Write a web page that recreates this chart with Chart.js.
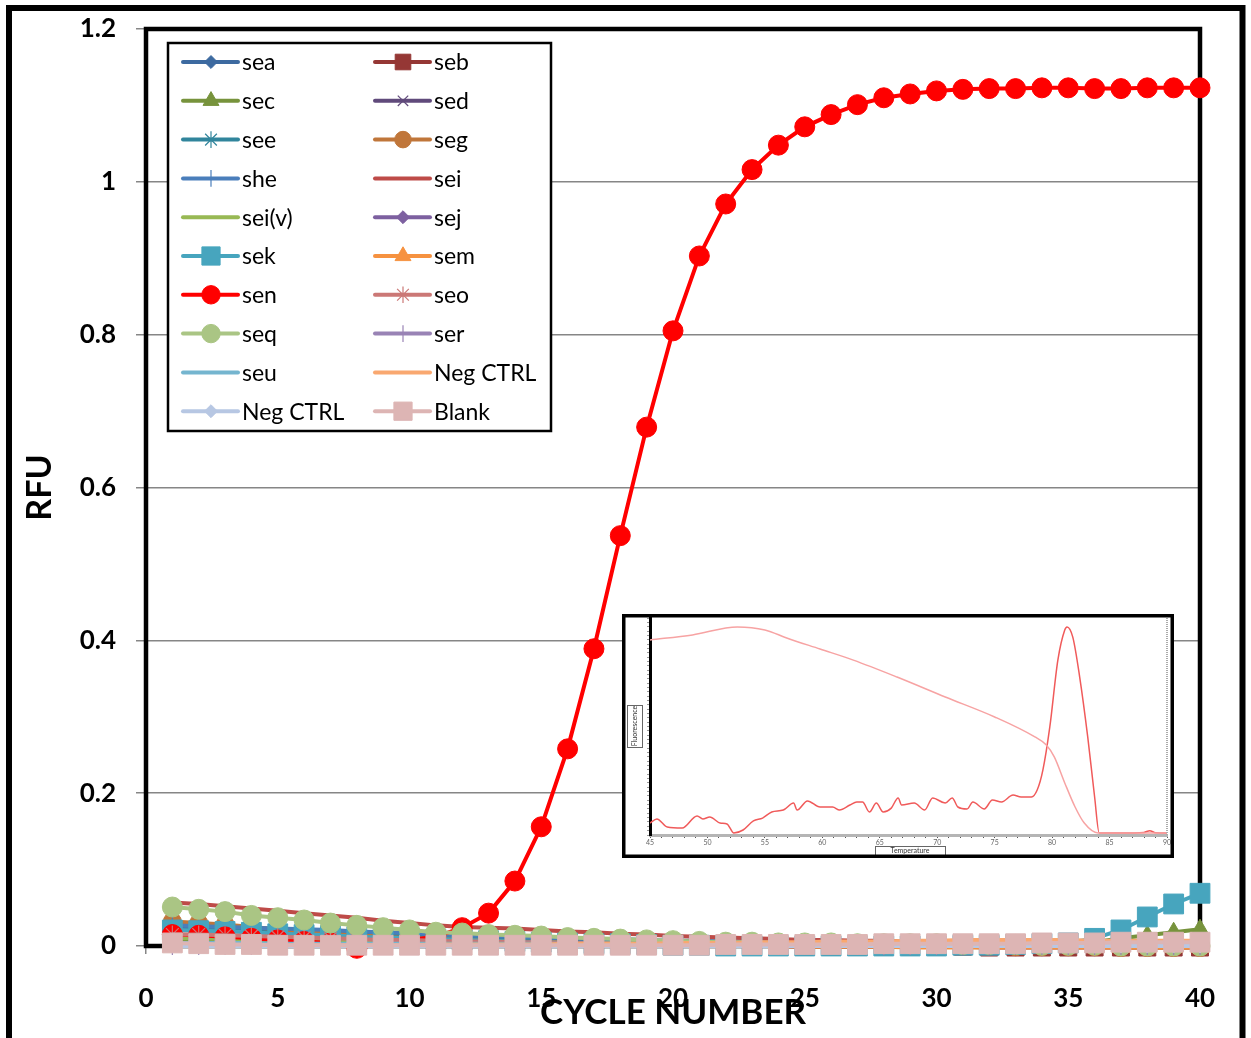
<!DOCTYPE html>
<html><head><meta charset="utf-8">
<script src="https://cdn.jsdelivr.net/npm/chart.js@4.4.0/dist/chart.umd.min.js"></script>
<style>
html,body{margin:0;padding:0;background:#fff;}
#wrap{position:relative;width:1251px;height:1038px;overflow:hidden;background:#fff;}
#main{position:absolute;left:0;top:0;}
#inset{position:absolute;left:622px;top:614px;}
</style></head><body>
<div id="wrap"><canvas id="main" width="1251" height="1038"></canvas><canvas id="inset" width="552" height="244"></canvas></div>
<script>
// ---------- main chart data ----------
const cycles = [1,2,3,4,5,6,7,8,9,10,11,12,13,14,15,16,17,18,19,20,21,22,23,24,25,26,27,28,29,30,31,32,33,34,35,36,37,38,39,40];
const xTickLabels = ['0','5','10','15','20','25','30','35','40'];
const yTickLabels = ['0','0.2','0.4','0.6','0.8','1','1.2'];
const seriesNames = ['sea','seb','sec','sed','see','seg','she','sei','sei(v)','sej','sek','sem','sen','seo','seq','ser','seu','Neg CTRL','Neg CTRL','Blank'];

const sea = [0.026,0.025,0.024,0.023,0.022,0.020,0.019,0.018,0.016,0.015,0.014,0.013,0.012,0.011,0.010,0.009,0.008,0.008,0.007,0.006,0.006,0.005,0.005,0.004,0.004,0.003,0.003,0.003,0.002,0.002,0.002,0.002,0.001,0.001,0.001,0.001,0.001,0.001,0.000,0.000];
const seb = [0.006,0.006,0.005,0.005,0.004,0.004,0.004,0.003,0.003,0.003,0.002,0.002,0.002,0.002,0.001,0.001,0.001,0.001,0.000,0.000,0.000,0.000,0.000,0.000,-0.001,-0.001,-0.001,-0.001,-0.001,-0.001,-0.001,-0.002,-0.002,-0.002,-0.002,-0.002,-0.002,-0.002,-0.002,-0.002];
const sec = [0.006,0.006,0.005,0.005,0.005,0.004,0.004,0.004,0.003,0.003,0.003,0.003,0.002,0.002,0.002,0.002,0.002,0.001,0.001,0.001,0.001,0.001,0.001,0.001,0.001,0.001,0.001,0.001,0.001,0.001,0.001,0.001,0.001,0.002,0.003,0.005,0.010,0.014,0.018,0.022];
const sed = [0.002,0.002,0.002,0.002,0.002,0.001,0.001,0.001,0.001,0.001,0.001,0.001,0.001,0.000,0.000,0.000,0.000,0.000,0.000,0.000,0.000,0.000,0.000,0.000,0.000,0.000,0.000,0.000,0.000,0.000,0.000,0.000,0.000,0.000,0.000,0.000,0.000,0.000,0.000,0.000];
const see = [0.022,0.021,0.021,0.020,0.019,0.018,0.017,0.016,0.015,0.014,0.013,0.012,0.011,0.010,0.009,0.008,0.008,0.007,0.006,0.006,0.005,0.005,0.004,0.004,0.004,0.003,0.003,0.003,0.003,0.002,0.002,0.002,0.002,0.002,0.002,0.002,0.002,0.002,0.002,0.002];
const seg = [0.032,0.030,0.028,0.025,0.022,0.019,0.016,0.014,0.012,0.010,0.009,0.008,0.007,0.006,0.005,0.005,0.004,0.004,0.003,0.003,0.003,0.002,0.002,0.002,0.001,0.001,0.001,0.001,0.000,0.000,0.000,0.000,-0.001,-0.001,-0.001,-0.001,-0.002,-0.002,-0.002,-0.002];
const she = [0.027,0.026,0.025,0.024,0.023,0.022,0.021,0.019,0.018,0.017,0.015,0.014,0.013,0.012,0.011,0.010,0.009,0.009,0.008,0.007,0.007,0.006,0.006,0.005,0.005,0.004,0.004,0.004,0.003,0.003,0.003,0.003,0.002,0.002,0.002,0.002,0.002,0.002,0.001,0.001];
const sei = [0.057,0.055,0.052,0.049,0.046,0.043,0.040,0.037,0.033,0.030,0.027,0.025,0.024,0.023,0.021,0.019,0.018,0.016,0.015,0.013,0.012,0.011,0.010,0.009,0.008,0.008,0.007,0.007,0.006,0.006,0.006,0.005,0.005,0.005,0.005,0.004,0.004,0.004,0.004,0.004];
const seiv = [0.010,0.010,0.009,0.009,0.008,0.008,0.007,0.007,0.006,0.006,0.006,0.005,0.005,0.005,0.005,0.004,0.004,0.004,0.004,0.003,0.003,0.003,0.003,0.003,0.002,0.002,0.002,0.002,0.002,0.002,0.001,0.001,0.001,0.001,0.001,0.000,0.000,0.000,0.000,0.000];
const sej = [0.003,0.003,0.003,0.002,0.002,0.002,0.002,0.002,0.002,0.001,0.001,0.001,0.001,0.001,0.001,0.001,0.001,0.000,0.000,0.000,0.000,0.000,0.000,0.000,0.000,0.000,0.000,0.000,0.000,0.000,0.000,0.000,0.000,0.000,0.000,0.000,0.000,0.000,0.000,0.000];
const sek = [0.021,0.020,0.019,0.018,0.016,0.015,0.014,0.012,0.011,0.010,0.009,0.008,0.007,0.006,0.005,0.004,0.003,0.003,0.002,0.001,0.001,0.000,0.000,0.000,0.000,0.000,0.000,0.000,0.000,0.000,0.001,0.001,0.002,0.003,0.004,0.010,0.021,0.038,0.055,0.069];
const sem = [0.001,0.001,0.001,0.001,0.001,0.000,0.000,0.000,0.000,0.000,0.000,0.000,0.000,0.000,0.000,0.000,0.000,0.000,0.000,0.000,0.000,0.000,0.000,0.000,-0.001,-0.001,-0.001,-0.001,-0.002,-0.002,-0.002,-0.002,-0.002,-0.002,-0.002,-0.002,-0.002,-0.002,-0.002,-0.002];
const sen = [0.015,0.014,0.012,0.010,0.008,0.006,0.004,-0.003,0.004,0.008,0.012,0.024,0.043,0.085,0.156,0.258,0.389,0.537,0.679,0.805,0.903,0.971,1.016,1.048,1.072,1.088,1.101,1.110,1.115,1.119,1.121,1.122,1.122,1.123,1.123,1.122,1.122,1.123,1.123,1.123];
const seo = [0.015,0.015,0.014,0.013,0.012,0.011,0.010,0.009,0.008,0.008,0.007,0.006,0.006,0.005,0.005,0.004,0.004,0.003,0.003,0.003,0.002,0.002,0.002,0.002,0.001,0.001,0.001,0.001,0.001,0.001,0.000,0.000,0.000,0.000,0.000,0.000,0.000,0.000,0.000,0.000];
const seq = [0.051,0.048,0.045,0.040,0.037,0.034,0.030,0.027,0.024,0.021,0.018,0.017,0.015,0.014,0.013,0.011,0.010,0.009,0.008,0.007,0.006,0.005,0.005,0.004,0.004,0.004,0.003,0.003,0.003,0.003,0.002,0.002,0.002,0.001,0.001,0.001,0.000,0.000,0.000,0.000];
const ser = [0.000,0.000,0.000,0.000,0.000,0.000,0.000,0.000,0.000,0.000,0.000,0.000,0.000,0.000,0.000,0.000,0.000,0.000,0.000,0.000,0.000,0.000,0.000,0.000,0.000,0.000,0.000,0.000,0.000,0.000,0.000,0.000,0.000,0.000,0.000,0.000,0.000,0.000,0.000,0.000];
const seu = [0.004,0.004,0.004,0.004,0.003,0.003,0.003,0.003,0.003,0.003,0.003,0.003,0.003,0.003,0.003,0.003,0.003,0.003,0.003,0.003,0.003,0.003,0.003,0.003,0.003,0.003,0.003,0.003,0.003,0.003,0.003,0.003,0.003,0.003,0.003,0.003,0.003,0.003,0.003,0.003];
const negCtrl1 = [0.001,0.001,0.001,0.001,0.001,0.001,0.001,0.001,0.001,0.001,0.002,0.002,0.002,0.002,0.002,0.003,0.003,0.003,0.003,0.004,0.004,0.004,0.005,0.005,0.005,0.006,0.006,0.006,0.007,0.007,0.008,0.008,0.008,0.008,0.008,0.007,0.007,0.007,0.007,0.007];
const negCtrl2 = [0.000,0.000,0.000,0.000,0.000,0.000,0.000,0.000,0.000,0.000,0.000,0.000,0.000,0.000,0.000,0.000,0.000,0.000,0.000,0.000,0.000,0.000,0.000,0.000,0.000,0.000,0.000,0.000,0.000,0.000,0.000,0.000,0.000,0.000,0.000,0.000,0.000,0.000,0.000,0.000];
const blank = [0.004,0.003,0.002,0.002,0.001,0.001,0.001,0.001,0.001,0.001,0.001,0.001,0.001,0.001,0.001,0.001,0.001,0.001,0.001,0.001,0.001,0.002,0.002,0.002,0.002,0.002,0.002,0.003,0.003,0.003,0.003,0.003,0.003,0.004,0.004,0.004,0.005,0.005,0.005,0.005];

const seriesValues = [sea,seb,sec,sed,see,seg,she,sei,seiv,sej,sek,sem,sen,seo,seq,ser,seu,negCtrl1,negCtrl2,blank];
const seriesColors = ['#3D6AA0','#953735','#77933C','#604A7B','#31859C','#C0763A','#4A7EBB','#BE4B48','#98B954','#7D60A0','#47A5BE','#F69240','#FF0000','#CB7876','#AAC584','#9983B5','#75B5CF','#F9A870','#B7C7E3','#DDB5B4'];
const seriesStyles = ['rectRot','rect','triangle','crossRot','star','circle','line',false,false,'rectRot','rect','triangle','circle','star','circle','line',false,false,'rectRot','rect'];
const seriesRadius = [7,12,10,8,9,9,9,0,0,7,14,10,10,9,10,9,0,0,7,14];

// ---------- inset data (melt curve) ----------
const insetXLabels = ['45','50','55','60','65','70','75','80','85','90'];
const meltTemp = [45,48.7,52.6,55,56.9,59.8,62.7,66.5,70.7,75.0,78.5,79.5,80.2,81.1,82.0,82.8,84.0,86,90];
const meltFluor = [89.9,92.2,95.9,94.5,90.8,85.7,80.6,72.8,63.6,54.4,45.2,41.5,35.9,24.0,12.9,5.5,0.9,0.9,0.9];
const derivTemp = [45,45.6,46.5,47.8,49.1,49.6,50.2,51.1,51.7,52.3,53.1,54.0,54.8,55.6,56.6,57.5,57.8,58.7,59.8,60.9,61.5,62.4,63.0,63.5,64.1,64.7,65.3,66.0,66.6,66.9,68.0,68.9,69.6,70.7,71.3,71.8,72.6,73.1,74.1,74.8,75.6,76.6,77.3,78.2,78.7,79.2,79.8,80.5,81.1,81.3,81.8,82.4,83.1,83.7,84.1,86,88,88.5,89,90];
const derivFluor = [5.5,7.4,3.7,3.2,8.8,7.4,8.3,5.5,5.1,0.9,2.3,6.5,7.8,10.6,11.5,14.7,11.5,15.7,12.9,12.9,11.5,13.8,15.2,15.2,10.6,14.7,10.6,12.4,17.1,13.8,14.7,11.5,17.1,14.7,17.1,12.9,12.0,15.2,12.0,16.1,15.2,18.4,17.5,17.5,20.7,30.0,49.8,80.6,94.5,95.9,91.2,72.8,45.2,17.5,0.9,0.9,1.2,2.0,1.0,0.9];

const FONT = 'Lato, "Liberation Sans", sans-serif';

const datasets = seriesNames.map((name, i) => {
  const col = seriesColors[i];
  const isStroke = ['crossRot','star','line'].includes(seriesStyles[i]);
  return {
    label: name,
    data: cycles.map((c, j) => ({x: c, y: seriesValues[i][j]})),
    borderColor: col,
    backgroundColor: col,
    borderWidth: 4,
    pointStyle: seriesStyles[i] || 'circle',
    pointRadius: seriesRadius[i],
    pointRotation: seriesStyles[i] === 'line' ? 90 : 0,
    pointBackgroundColor: col,
    pointBorderColor: col,
    pointBorderWidth: isStroke ? 1.2 : 1,
    pointHoverRadius: seriesRadius[i],
    tension: 0,
    clip: false,
    order: 100 - i
  };
});

const framePlugin = {
  id: 'frame',
  beforeDraw(chart) {
    const ctx = chart.ctx;
    ctx.save();
    ctx.fillStyle = '#fff';
    ctx.fillRect(0, 0, chart.width, chart.height);
    ctx.strokeStyle = '#000';
    ctx.lineWidth = 6;
    ctx.strokeRect(9, 8, 1233.5, 1045);
    ctx.restore();
  },
  beforeDatasetsDraw(chart) {
    const {ctx, chartArea: a} = chart;
    ctx.save();
    ctx.strokeStyle = '#000';
    ctx.lineWidth = 4.5;
    ctx.strokeRect(a.left, a.top, a.right - a.left, a.bottom - a.top);
    ctx.restore();
  },
  afterDatasetsDraw(chart) {
    const ctx = chart.ctx;
    ctx.save();
    const bx = 168, by = 43, bw = 383, bh = 388;
    ctx.fillStyle = '#fff';
    ctx.fillRect(bx, by, bw, bh);
    ctx.strokeStyle = '#000';
    ctx.lineWidth = 2.5;
    ctx.strokeRect(bx, by, bw, bh);
    const ds = chart.data.datasets;
    ds.forEach((d, i) => {
      const col = i % 2, row = Math.floor(i / 2);
      const x0 = col ? 375 : 183;
      const y = 62 + row * 38.8;
      ctx.strokeStyle = d.borderColor;
      ctx.lineWidth = 4;
      ctx.lineCap = 'round';
      ctx.beginPath(); ctx.moveTo(x0, y); ctx.lineTo(x0 + 55, y); ctx.stroke();
      if (d.pointRadius > 0) {
        ctx.fillStyle = d.pointBackgroundColor;
        ctx.strokeStyle = d.pointBorderColor;
        ctx.lineWidth = d.pointBorderWidth;
        ctx.lineCap = 'butt';
        Chart.helpers.drawPoint(ctx, {pointStyle: d.pointStyle, radius: d.pointRadius * 0.92, rotation: d.pointRotation, borderWidth: d.pointBorderWidth}, x0 + 28, y);
      }
      ctx.fillStyle = '#000';
      ctx.font = '23px ' + FONT;
      ctx.textBaseline = 'middle';
      ctx.textAlign = 'left';
      ctx.fillText(d.label, x0 + 59, y + 1);
    });
    ctx.restore();
  }
};

new Chart(document.getElementById('main'), {
  type: 'line',
  data: {datasets},
  options: {
    responsive: false,
    animation: false,
    devicePixelRatio: 1,
    layout: {padding: {top: 29, right: 51, left: 0, bottom: 0}},
    plugins: {legend: {display: false}, tooltip: {enabled: false}},
    scales: {
      x: {
        type: 'linear', min: 0, max: 40,
        ticks: {stepSize: 5, autoSkip: false, maxRotation: 0, padding: 29, color: '#000',
          font: {family: FONT, size: 26, weight: 'bold'},
          callback: (v, idx) => xTickLabels[idx]},
        grid: {drawOnChartArea: false, drawTicks: true, tickLength: 8, color: '#868686', lineWidth: 1.5},
        border: {display: false},
        title: {display: true, text: 'CYCLE NUMBER', color: '#000', font: {family: FONT, size: 35, weight: 'bold'}, padding: {top: 0, bottom: 4}},
        afterFit: s => { s.height = 1038 - 946; s.paddingLeft = 0; s.paddingRight = 0; }
      },
      y: {
        min: 0, max: 1.2,
        ticks: {stepSize: 0.2, padding: 20, color: '#000',
          font: {family: FONT, size: 26, weight: 'bold'},
          callback: (v, idx) => yTickLabels[idx]},
        grid: {color: '#868686', lineWidth: 1.5, tickLength: 10},
        border: {display: false},
        title: {display: true, text: 'RFU', color: '#000', font: {family: FONT, size: 34, weight: 'bold'}, padding: {top: 20, bottom: 0}},
        afterFit: s => { s.width = 146; s.paddingTop = 0; s.paddingBottom = 0; }
      }
    }
  },
  plugins: [framePlugin]
});

// ---------- inset chart ----------
const insetPlugin = {
  id: 'insetFrame',
  beforeDraw(chart) {
    const ctx = chart.ctx;
    ctx.save();
    ctx.fillStyle = '#fff';
    ctx.fillRect(0, 0, chart.width, chart.height);
    ctx.restore();
  },
  afterDraw(chart) {
    const {ctx, chartArea: a} = chart;
    ctx.save();
    ctx.strokeStyle = '#aaa';
    ctx.lineWidth = 2;
    ctx.setLineDash([1, 1]);
    ctx.beginPath(); ctx.moveTo(a.right, a.top); ctx.lineTo(a.right, a.bottom); ctx.stroke();
    ctx.setLineDash([]);
    ctx.strokeStyle = '#666'; ctx.lineWidth = 1;
    ctx.fillStyle = '#fff';
    ctx.fillRect(5, 91, 15, 42); ctx.strokeRect(5.5, 91.5, 15, 42);
    ctx.save();
    ctx.translate(13, 112); ctx.rotate(-Math.PI / 2);
    ctx.fillStyle = '#333'; ctx.font = '7px ' + FONT; ctx.textAlign = 'center'; ctx.textBaseline = 'middle';
    ctx.fillText('Fluorescence', 0, 0);
    ctx.restore();
    ctx.fillStyle = '#fff';
    ctx.fillRect(253, 232, 70, 9); ctx.strokeRect(253.5, 232.5, 70, 9);
    ctx.fillStyle = '#333'; ctx.font = '7px ' + FONT; ctx.textAlign = 'center'; ctx.textBaseline = 'middle';
    ctx.fillText('Temperature', 288, 237);
    ctx.strokeStyle = '#000'; ctx.lineWidth = 3.5;
    ctx.strokeRect(1.75, 1.75, chart.width - 3.5, chart.height - 3.5);
    ctx.restore();
  }
};

new Chart(document.getElementById('inset'), {
  type: 'line',
  data: {
    datasets: [
      {label: 'melt', data: meltTemp.map((t, i) => ({x: t, y: meltFluor[i]})), borderColor: '#F7A3A3', borderWidth: 1.5, pointRadius: 0, tension: 0.3, cubicInterpolationMode: 'monotone'},
      {label: 'derivative', data: derivTemp.map((t, i) => ({x: t, y: derivFluor[i]})), borderColor: '#F05A5A', borderWidth: 1.5, pointRadius: 0, tension: 0.3, cubicInterpolationMode: 'monotone'}
    ]
  },
  options: {
    responsive: false, animation: false, devicePixelRatio: 1,
    layout: {padding: {top: 4, right: 7, left: 0, bottom: 0}},
    plugins: {legend: {display: false}, tooltip: {enabled: false}},
    scales: {
      x: {type: 'linear', min: 45, max: 90,
        ticks: {stepSize: 1, autoSkip: false, maxRotation: 0, padding: 1, color: '#666', font: {family: FONT, size: 7},
          callback: v => (v % 5 === 0 ? insetXLabels[(v - 45) / 5] : '')},
        grid: {drawOnChartArea: false, tickLength: 3, color: '#555'},
        border: {display: true, color: '#b5b5b5', width: 3},
        afterFit: s => { s.height = 23; }
      },
      y: {min: 0, max: 100,
        ticks: {stepSize: 2, display: false},
        grid: {drawOnChartArea: false, tickLength: 3, color: '#999'},
        border: {display: true, color: '#000', width: 3},
        afterFit: s => { s.width = 28; }
      }
    }
  },
  plugins: [insetPlugin]
});
</script>
</body></html>
